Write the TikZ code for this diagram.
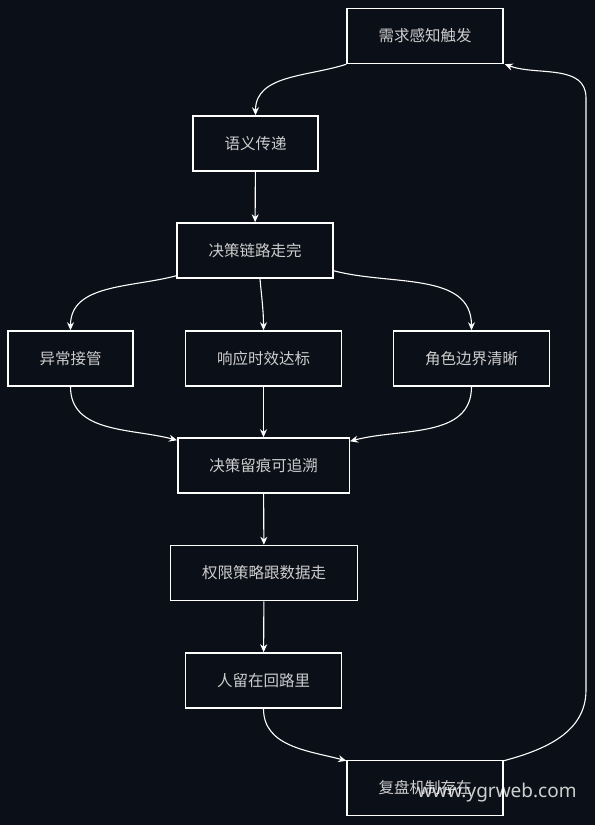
\documentclass[tikz,border=0pt]{standalone}
\usepackage{fontspec}
\newfontfamily\cjk{Noto Sans CJK SC}
\newfontfamily\wmfont{Noto Sans}
\usetikzlibrary{arrows.meta,positioning}
\definecolor{bgdark}{HTML}{0B0F17}
\definecolor{txtgray}{HTML}{CDCDCD}

\begin{document}
\begin{tikzpicture}[x=1pt, y=1pt]
		\tikzstyle{every node}=[font=\cjk\fontsize{15.5}{18}\selectfont, text=txtgray]
		\tikzstyle{stepbox}=[draw=white, line width=1.5pt, fill=bgdark, inner xsep=31.5pt, minimum height=55pt]
		\tikzstyle{link}=[draw=white, line width=1.1pt, -{Stealth[length=8pt, width=7pt]}]
		\fill [bgdark] (0,0) rectangle (595,-825);
		\useasboundingbox (0,0) rectangle (595,-825);
		% boxes
		\node [stepbox] (trigger) at (425,-36) {需求感知触发};
		\node [stepbox] (semantic) at (255.5,-143.5) {语义传递};
		\node [stepbox] (chain) at (255,-250.5) {决策链路走完};
		\node [stepbox] (takeover) at (70.5,-358.5) {异常接管};
		\node [stepbox] (response) at (263.5,-358.5) {响应时效达标};
		\node [stepbox] (roles) at (471.5,-358.5) {角色边界清晰};
		\node [stepbox] (trace) at (263.5,-465.5) {决策留痕可追溯};
		\node [stepbox] (policy) at (264,-573) {权限策略跟数据走};
		\node [stepbox] (human) at (263.5,-680.5) {人留在回路里};
		\node [stepbox] (review) at (425,-788) {复盘机制存在};
		\coordinate (loopbot) at (586,-690);
		\coordinate (looptop) at (586,-98);
		% links
		\draw [link] (trigger.south west) to[out=198, in=90] (semantic.north);
		\draw [link] (semantic) -- (chain);
		\draw [link] ([yshift=3pt]chain.south west) to[out=195, in=90] (takeover.north);
		\draw [link] ([xshift=5pt]chain.south) to[out=-85, in=90] (response.north);
		\draw [link] ([yshift=8pt]chain.south east) to[out=-15, in=90] (roles.north);
		\draw [link] (takeover.south) to[out=-90, in=165] ([yshift=-3pt]trace.north west);
		\draw [link] (response) -- (trace);
		\draw [link] (roles.south) to[out=-90, in=15] ([yshift=-4pt]trace.north east);
		\draw [link] (trace) -- (policy);
		\draw [link] (policy) -- (human);
		\draw [link] (human.south) to[out=-90, in=165] ([yshift=-1pt]review.north west);
		\draw [link] ([yshift=-1pt]review.north east) to[out=15, in=-90] (loopbot) -- (looptop) to[out=90, in=-20] ([xshift=1pt]trigger.south east);
		% watermark
		\node [font=\wmfont\fontsize{19}{22}\selectfont, text=white, opacity=0.8] (mark) at (497,-793) {www.ygrweb.com};
\end{tikzpicture}
\end{document}
